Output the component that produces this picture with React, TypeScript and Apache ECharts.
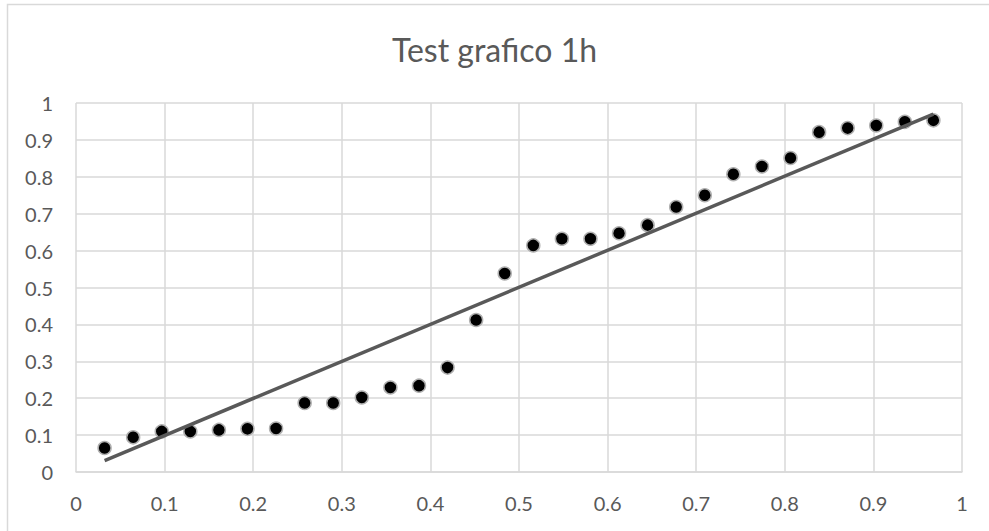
import React, { useEffect, useRef } from "react";
import * as echarts from "echarts";

// Observed points: x positions are i/31, y values per sample
const xValues = [
  1, 2, 3, 4, 5, 6, 7, 8, 9, 10, 11, 12, 13, 14, 15,
  16, 17, 18, 19, 20, 21, 22, 23, 24, 25, 26, 27, 28, 29, 30,
].map((i) => i / 31);
const yValues = [
  0.065, 0.094, 0.11, 0.11, 0.114, 0.117, 0.118, 0.187, 0.187, 0.202,
  0.229, 0.234, 0.283, 0.412, 0.538, 0.614, 0.632, 0.632, 0.647, 0.669,
  0.718, 0.75, 0.807, 0.828, 0.851, 0.921, 0.932, 0.939, 0.949, 0.953,
];
// Linear trendline endpoints
const trendX = [0.0323, 0.9677];
const trendY = [0.031, 0.97];

const TITLE = "Test grafico 1h";
const FONT = "Lato, 'Noto Sans', sans-serif";
const TEXT_COLOR = "#595959";
const GRID_COLOR = "#d9d9d9";

export default function App() {
  const ref = useRef<HTMLDivElement>(null);

  useEffect(() => {
    if (!ref.current) return;
    const chart = echarts.init(ref.current, undefined, { renderer: "svg" });
    const points = xValues.map((x, i) => [x, yValues[i]]);
    const trend = trendX.map((x, i) => [x, trendY[i]]);
    chart.setOption({
      animation: false,
      backgroundColor: "#ffffff",
      title: {
        text: TITLE,
        left: "center",
        top: 28,
        textStyle: {
          color: TEXT_COLOR,
          fontFamily: FONT,
          fontSize: 32,
          fontWeight: "normal",
        },
      },
      graphic: [
        {
          type: "rect",
          shape: { x: 7.5, y: 4.5, width: 1000, height: 600 },
          style: { fill: "none", stroke: GRID_COLOR, lineWidth: 1.5 },
          silent: true,
        },
      ],
      grid: { left: 76, right: 27, top: 103, bottom: 59, containLabel: false },
      xAxis: {
        type: "value",
        min: 0,
        max: 1,
        interval: 0.1,
        axisLine: { show: true, lineStyle: { color: GRID_COLOR, width: 1.5 } },
        axisTick: { show: false },
        splitLine: { show: true, lineStyle: { color: GRID_COLOR, width: 1.5 } },
        axisLabel: {
          color: TEXT_COLOR,
          fontFamily: FONT,
          fontSize: 20,
          margin: 21,
          formatter: (v: number) => String(Math.round(v * 10) / 10),
        },
      },
      yAxis: {
        type: "value",
        min: 0,
        max: 1,
        interval: 0.1,
        axisLine: { show: false },
        axisTick: { show: false },
        splitLine: { show: true, lineStyle: { color: GRID_COLOR, width: 1.5 } },
        axisLabel: {
          color: TEXT_COLOR,
          fontFamily: FONT,
          fontSize: 20,
          margin: 23,
          formatter: (v: number) => String(Math.round(v * 10) / 10),
        },
      },
      series: [
        {
          type: "scatter",
          data: points,
          symbol: "circle",
          symbolSize: 13,
          itemStyle: {
            color: "#000000",
            borderColor: "#b0b0b0",
            borderWidth: 1.5,
            opacity: 1,
          },
          z: 3,
        },
        {
          type: "line",
          data: trend,
          symbol: "none",
          lineStyle: { color: "#595959", width: 3.5 },
          z: 4,
        },
      ],
    });
    return () => chart.dispose();
  }, []);

  return (
    <div
      ref={ref}
      style={{ position: "absolute", left: 0, top: 0, width: 989, height: 531 }}
    />
  );
}
